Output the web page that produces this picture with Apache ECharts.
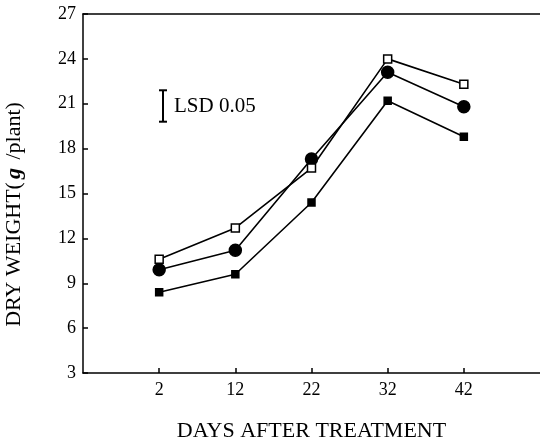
<!DOCTYPE html>
<html>
<head>
<meta charset="utf-8">
<script src="https://cdn.jsdelivr.net/npm/echarts@6/dist/echarts.min.js"></script>
<style>
  html, body { margin: 0; padding: 0; background: #fff; }
  #chart { width: 540px; height: 438px; }
</style>
</head>
<body>
<div id="chart"></div>
<script>
// days after treatment
const days = [2, 12, 22, 32, 42];
// dry weight, g/plant
const openSquare = [10.6, 12.7, 16.7, 24.0, 22.3];
const filledCircle = [9.9, 11.2, 17.3, 23.1, 20.8];
const filledSquare = [8.4, 9.6, 14.4, 21.2, 18.8];
const yTicks = [3, 6, 9, 12, 15, 18, 21, 24, 27];
// LSD bar: [x, low, high]
const lsd = [[2.5, 19.8, 21.9]];

const font = '"Liberation Serif", "DejaVu Serif", serif';
const chart = echarts.init(document.getElementById('chart'));

const pair = (vals) => days.map((d, i) => [d, vals[i]]);

const lineSeries = (name, vals, symbol, size, fill) => ({
  name: name,
  type: 'line',
  data: pair(vals),
  symbol: symbol,
  symbolSize: size,
  showAllSymbol: true,
  lineStyle: { color: '#000', width: 1.6 },
  itemStyle: { color: fill, borderColor: '#000', borderWidth: 1.5 },
  z: fill === '#fff' ? 4 : 3
});

const option = {
  animation: false,
  grid: { left: 83, top: 14, right: 0, bottom: 65, outerBoundsMode: 'none', containLabel: false },
  xAxis: [
    {
      type: 'value',
      min: -8,
      max: 52,
      name: 'DAYS AFTER TREATMENT',
      nameLocation: 'middle',
      nameGap: 47,
      nameTextStyle: { fontFamily: font, fontSize: 22, color: '#000' },
      axisLine: { onZero: false, lineStyle: { color: '#000', width: 1.5 } },
      axisTick: { inside: true, length: 5, customValues: days, lineStyle: { color: '#000', width: 1.5 } },
      axisLabel: { customValues: days, fontFamily: font, fontSize: 18, color: '#000', margin: 8 },
      splitLine: { show: false }
    },
    {
      type: 'value',
      position: 'top',
      min: -8,
      max: 52,
      axisLine: { show: true, onZero: false, lineStyle: { color: '#000', width: 1.5 } },
      axisTick: { show: false },
      axisLabel: { show: false },
      splitLine: { show: false }
    }
  ],
  yAxis: {
    type: 'value',
    min: yTicks[0],
    max: yTicks[yTicks.length - 1],
    interval: 3,
    name: '{n|DRY WEIGHT(}{g|g}{n| /plant)}',
    nameLocation: 'middle',
    nameGap: 58,
    nameRotate: 90,
    nameTextStyle: {
      padding: [0, 42, 0, 0],
      rich: {
        n: { fontFamily: font, fontSize: 22, color: '#000' },
        g: { fontFamily: font, fontSize: 22, color: '#000', fontStyle: 'italic', fontWeight: 'bold', padding: [0, 3] }
      }
    },
    axisLine: { show: true, onZero: false, lineStyle: { color: '#000', width: 1.5 } },
    axisTick: { show: true, inside: true, length: 5, lineStyle: { color: '#000', width: 1.5 } },
    axisLabel: { fontFamily: font, fontSize: 18, color: '#000', margin: 7 },
    splitLine: { show: false }
  },
  series: [
    lineSeries('open', openSquare, 'rect', 8, '#fff'),
    lineSeries('circle', filledCircle, 'circle', 12, '#000'),
    lineSeries('square', filledSquare, 'rect', 7, '#000'),
    {
      type: 'custom',
      data: lsd,
      renderItem: (params, api) => {
        const top = api.coord([api.value(0), api.value(2)]);
        const bot = api.coord([api.value(0), api.value(1)]);
        const w = 4;
        const st = { stroke: '#000', lineWidth: 2 };
        return {
          type: 'group',
          children: [
            { type: 'line', shape: { x1: top[0], y1: top[1], x2: bot[0], y2: bot[1] }, style: st },
            { type: 'line', shape: { x1: top[0] - w, y1: top[1], x2: top[0] + w, y2: top[1] }, style: st },
            { type: 'line', shape: { x1: bot[0] - w, y1: bot[1], x2: bot[0] + w, y2: bot[1] }, style: st },
            {
              type: 'text',
              style: {
                x: top[0] + 11,
                y: (top[1] + bot[1]) / 2,
                text: 'LSD 0.05',
                fill: '#000',
                font: '21px ' + font,
                verticalAlign: 'middle'
              }
            }
          ]
        };
      }
    }
  ]
};

chart.setOption(option);
</script>
</body>
</html>
